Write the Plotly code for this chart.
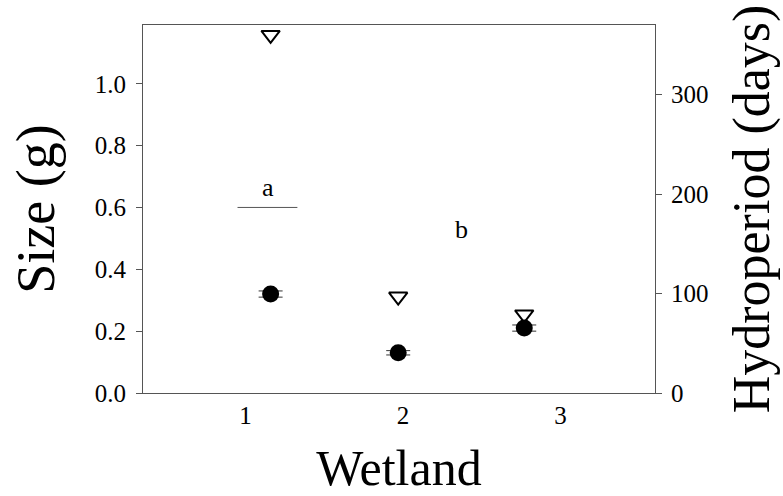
import plotly.graph_objects as go

# Data
size_x = [1.16, 1.97, 2.77]          # wetland position of size points
size_g = [0.32, 0.13, 0.21]          # mean size (g)
size_err = [0.010, 0.007, 0.010]     # SE
hydro_x = [1.16, 1.97, 2.77]
hydro_days = [360, 97, 79]           # hydroperiod (days)
x_ticks = [1, 2, 3]
x_ticklabels = ["1", "2", "3"]
y_ticks = [0.0, 0.2, 0.4, 0.6, 0.8, 1.0]
y2_ticks = [0, 100, 200, 300]
letters = ["a", "b"]
letter_x = [1.146, 2.37]
letter_y = [0.665, 0.53]
bar_x = [0.95, 1.33]
bar_y = 0.6

FONT = "Liberation Serif"
LINE = "#555555"

fig = go.Figure()
fig.add_trace(go.Scatter(
    x=size_x, y=size_g, mode="markers",
    marker=dict(symbol="circle", size=17, color="black"),
    error_y=dict(type="data", array=size_err, visible=True,
                 color="#333333", thickness=1, width=12),
    showlegend=False, cliponaxis=False,
))
fig.add_trace(go.Scatter(
    x=hydro_x, y=hydro_days, mode="markers", yaxis="y2",
    marker=dict(symbol="triangle-down-open", size=16, color="black",
                line=dict(width=2, color="black")),
    showlegend=False, cliponaxis=False,
))

for t, lx, ly in zip(letters, letter_x, letter_y):
    fig.add_annotation(x=lx, y=ly, xref="x", yref="y", text=t, showarrow=False,
                       font=dict(family=FONT, size=26, color="black"))
fig.add_shape(type="line", xref="x", yref="y", x0=bar_x[0], x1=bar_x[1],
              y0=bar_y, y1=bar_y, line=dict(color=LINE, width=1))

fig.update_layout(
    width=783, height=496,
    margin=dict(l=143, r=128, t=25, b=103),
    plot_bgcolor="white", paper_bgcolor="white",
    font=dict(family=FONT, color="black", size=25),
    xaxis=dict(range=[0.35, 3.6], tickvals=x_ticks, ticktext=x_ticklabels,
               showline=True, mirror=True, linecolor=LINE, linewidth=1,
               ticks="", showgrid=False, zeroline=False, automargin=False,
               tickfont=dict(size=25, family=FONT),
               title=dict(text="Wetland", font=dict(size=50, family=FONT), standoff=26)),
    yaxis=dict(range=[0, 1.19], tickvals=y_ticks, tickformat=".1f",
               showline=True, linecolor=LINE, linewidth=1,
               ticks="outside", ticklen=6, tickcolor=LINE,
               showgrid=False, zeroline=False, ticklabelstandoff=5, automargin=False,
               tickfont=dict(size=25, family=FONT),
               title=dict(text="Size (g)", font=dict(size=54, family=FONT), standoff=22)),
    yaxis2=dict(range=[0, 370], tickvals=y2_ticks, overlaying="y", side="right",
                showline=True, linecolor=LINE, linewidth=1,
                ticks="outside", ticklen=6, tickcolor=LINE,
                showgrid=False, zeroline=False, ticklabelstandoff=4, automargin=False,
                tickfont=dict(size=25, family=FONT),
                title=dict(text="Hydroperiod (days)", font=dict(size=52, family=FONT), standoff=25)),
)

fig.write_html("out.html")
